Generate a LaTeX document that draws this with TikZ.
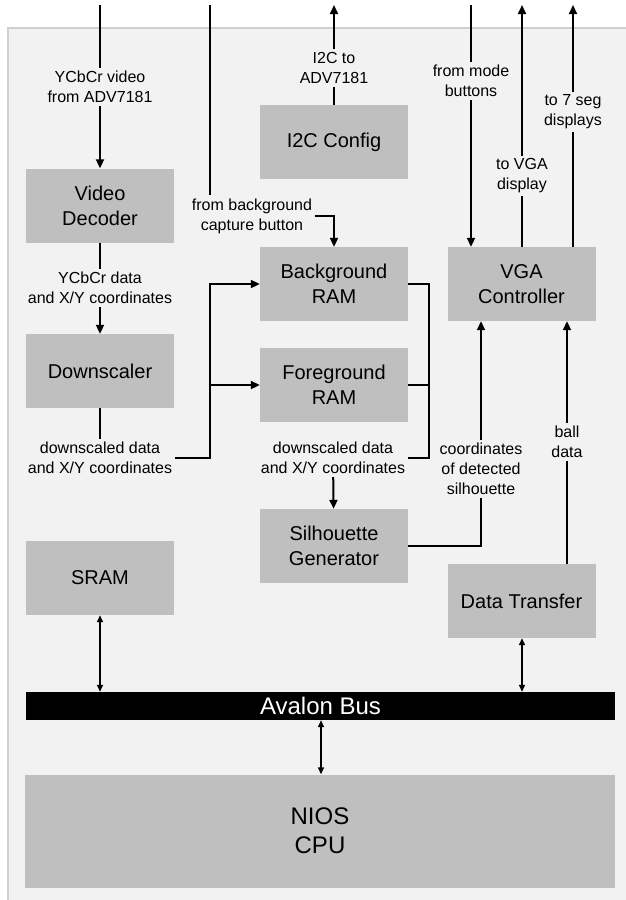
\documentclass[tikz,border=0pt]{standalone}
\usepackage{fontspec}
\setmainfont{Liberation Sans}
\usetikzlibrary{arrows.meta,positioning}
\definecolor{boxgray}{HTML}{BFBFBF}
\definecolor{panel}{HTML}{F2F2F2}
\definecolor{panelline}{HTML}{D0D0D0}

\begin{document}
\begin{tikzpicture}[
    x=1pt,y=-1pt,
    block/.style={fill=boxgray,minimum width=148pt,minimum height=74pt,inner sep=0pt,
      align=center,font=\fontsize{20}{25}\selectfont},
    lbl/.style={inner sep=3pt,align=center,font=\fontsize{16}{20}\selectfont},
    link/.style={line width=2pt,>={Triangle[length=9pt,width=8pt]}},
    buslink/.style={line width=1.5pt,{Triangle[length=7pt,width=6pt]}-{Triangle[length=7pt,width=6pt]}}]
  \useasboundingbox (0,0) rectangle (626,900);
  \fill[panel] (8,28) rectangle (640,910);
  \draw[panelline,line width=1.5pt] (8,910) -- (8,28) -- (640,28);

  % blocks
  \node[block] (dec) at (100,205.5) {Video\\Decoder};
  \node[block] (down) at (100,371) {Downscaler};
  \node[block] (sram) at (100,578) {SRAM};
  \node[block] (i2c) at (334,142) {I2C Config};
  \node[block] (bgram) at (334,284) {Background\\RAM};
  \node[block] (fgram) at (334,385) {Foreground\\RAM};
  \node[block] (sil) at (334,546) {Silhouette\\Generator};
  \node[block] (vga) at (521.5,284) {VGA\\Controller};
  \node[block] (xfer) at (521.5,601) {Data Transfer};
  \node[fill=black,text=white,minimum width=589pt,minimum height=28pt,inner sep=0pt,
    font=\fontsize{24}{29}\selectfont] (bus) at (320.5,706) {Avalon Bus};
  \node[block,minimum width=590pt,minimum height=113pt,font=\fontsize{24}{29}\selectfont]
    (cpu) at (320,831) {NIOS\\CPU};

  % signal labels
  \node[lbl] (vidin) at (100,87) {YCbCr video\\from ADV7181};
  \node[lbl] (bgcap) at (252,216) {from background\\capture button};
  \node[lbl] (i2cout) at (334,68) {I2C to\\ADV7181};
  \node[lbl] (modein) at (471,81) {from mode\\buttons};
  \node[lbl] (vgaout) at (522,176) {to VGA\\display};
  \node[lbl] (segout) at (573,112) {to 7 seg\\displays};
  \node[lbl] (ycc) at (100,288) {YCbCr data\\and X/Y coordinates};
  \node[lbl] (dsdata) at (100,458) {downscaled data\\and X/Y coordinates};
  \node[lbl] (ramdata) at (333,458) {downscaled data\\and X/Y coordinates};
  \node[lbl] (silpos) at (481,469) {coordinates\\of detected\\silhouette};
  \node[lbl] (balldata) at (567,442) {ball\\data};

  % free ends at the top
  \coordinate (vidtop) at (100,5);
  \coordinate (captop) at (210,5);
  \coordinate (i2ctop) at (334,5);
  \coordinate (modetop) at (471,5);
  \coordinate (vgatop) at (522,5);
  \coordinate (segtop) at (573,5);

  % inputs and outputs
  \draw[link] (vidtop) -- (vidin);
  \draw[link,->] (vidin) -- (dec);
  \draw[link] (captop) -- (captop |- bgcap.north);
  \draw[link,->] (bgcap.east) -| (bgram);
  \draw[link] (i2c) -- (i2cout);
  \draw[link,->] (i2cout) -- (i2ctop);
  \draw[link] (modetop) -- (modein);
  \draw[link,->] (modein) -- (modein |- vga.north);
  \draw[link] (vgaout |- vga.north) -- (vgaout);
  \draw[link,->] (vgaout) -- (vgatop);
  \draw[link] (segout |- vga.north) -- (segout);
  \draw[link,->] (segout) -- (segtop);

  % video path
  \draw[link] (dec) -- (ycc);
  \draw[link,->] (ycc) -- (down);
  \draw[link] (down) -- (dsdata);
  \draw[link,->] (dsdata.east) -| (210,385) |- (bgram.west);
  \draw[link,->] (210,385) -- (fgram.west);
  \draw[link] (bgram.east) -| (429,385) |- (ramdata.east);
  \draw[link] (fgram.east) -- (429,385);
  \draw[link,->] (ramdata) -- (sil);
  \draw[link] (sil.east) -| (silpos);
  \draw[link,->] (silpos) -- (silpos |- vga.south);
  \draw[link] (balldata |- xfer.north) -- (balldata);
  \draw[link,->] (balldata) -- (balldata |- vga.south);

  % bus
  \draw[buslink] (sram) -- (sram |- bus.north);
  \draw[buslink] (522,0 |- xfer.south) -- (522,0 |- bus.north);
  \draw[buslink] (321,0 |- bus.south) -- (321,0 |- cpu.north);
\end{tikzpicture}
\end{document}
